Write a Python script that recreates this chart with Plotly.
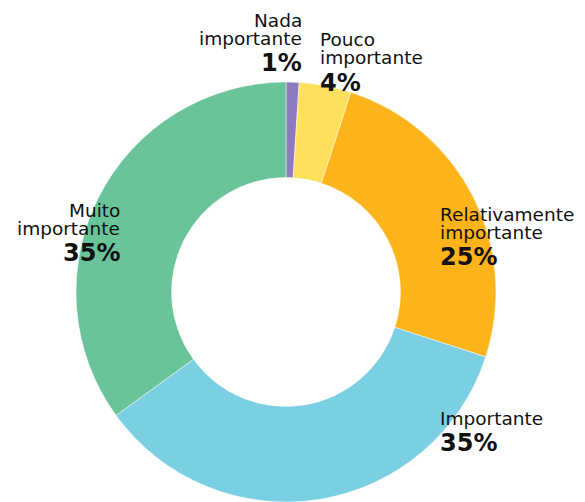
import plotly.graph_objects as go

categories = ["Nada importante", "Pouco importante", "Relativamente importante", "Importante", "Muito importante"]
label_lines = [["Nada", "importante"], ["Pouco", "importante"], ["Relativamente", "importante"], ["Importante"], ["Muito", "importante"]]
values = [1, 4, 25, 35, 35]
colors = ["#8E7BBF", "#FEE05C", "#FDB31A", "#7BCFE2", "#69C49A"]

# page has an 8px body margin; the figure is sized so it fits the window
OFF = 8
W, H = 585 - OFF, 502 - OFF
def px(x):
    return (x - OFF) / W
def py(y):
    return 1 - (y - OFF) / H

# label anchor: (x px, first line center y px, xanchor) in window pixels
anchors = [(304, 20, "right"), (318, 40, "left"), (438, 214, "left"), (438, 418, "left"), (122, 210, "right")]

fig = go.Figure(go.Pie(
    labels=categories, values=values, hole=0.545, sort=False, direction="clockwise",
    rotation=0, marker=dict(colors=colors, line=dict(color="white", width=0.5)),
    textinfo="none", showlegend=False, hoverinfo="label+percent",
    domain=dict(x=[px(75), px(497)], y=[0, py(82)]),
))

FONT = "DejaVu Sans"
ann = []
for lines, v, (ax, ay, xa) in zip(label_lines, values, anchors):
    y = ay
    for i, t in enumerate(lines):
        if i > 0:
            y += 18
        ann.append(dict(x=px(ax), y=py(y), xref="paper", yref="paper", text=t, showarrow=False,
                        xanchor=xa, yanchor="middle",
                        font=dict(family=FONT, size=18.5, color="#111111")))
    y += 25
    ann.append(dict(x=px(ax), y=py(y), xref="paper", yref="paper", text=f"<b>{v}%</b>", showarrow=False,
                    xanchor=xa, yanchor="middle",
                    font=dict(family=FONT, size=24, color="#111111")))

fig.update_layout(width=W, height=H, margin=dict(l=0, r=0, t=0, b=0), paper_bgcolor="white",
                  plot_bgcolor="white", annotations=ann)
fig.write_html("out.html")
